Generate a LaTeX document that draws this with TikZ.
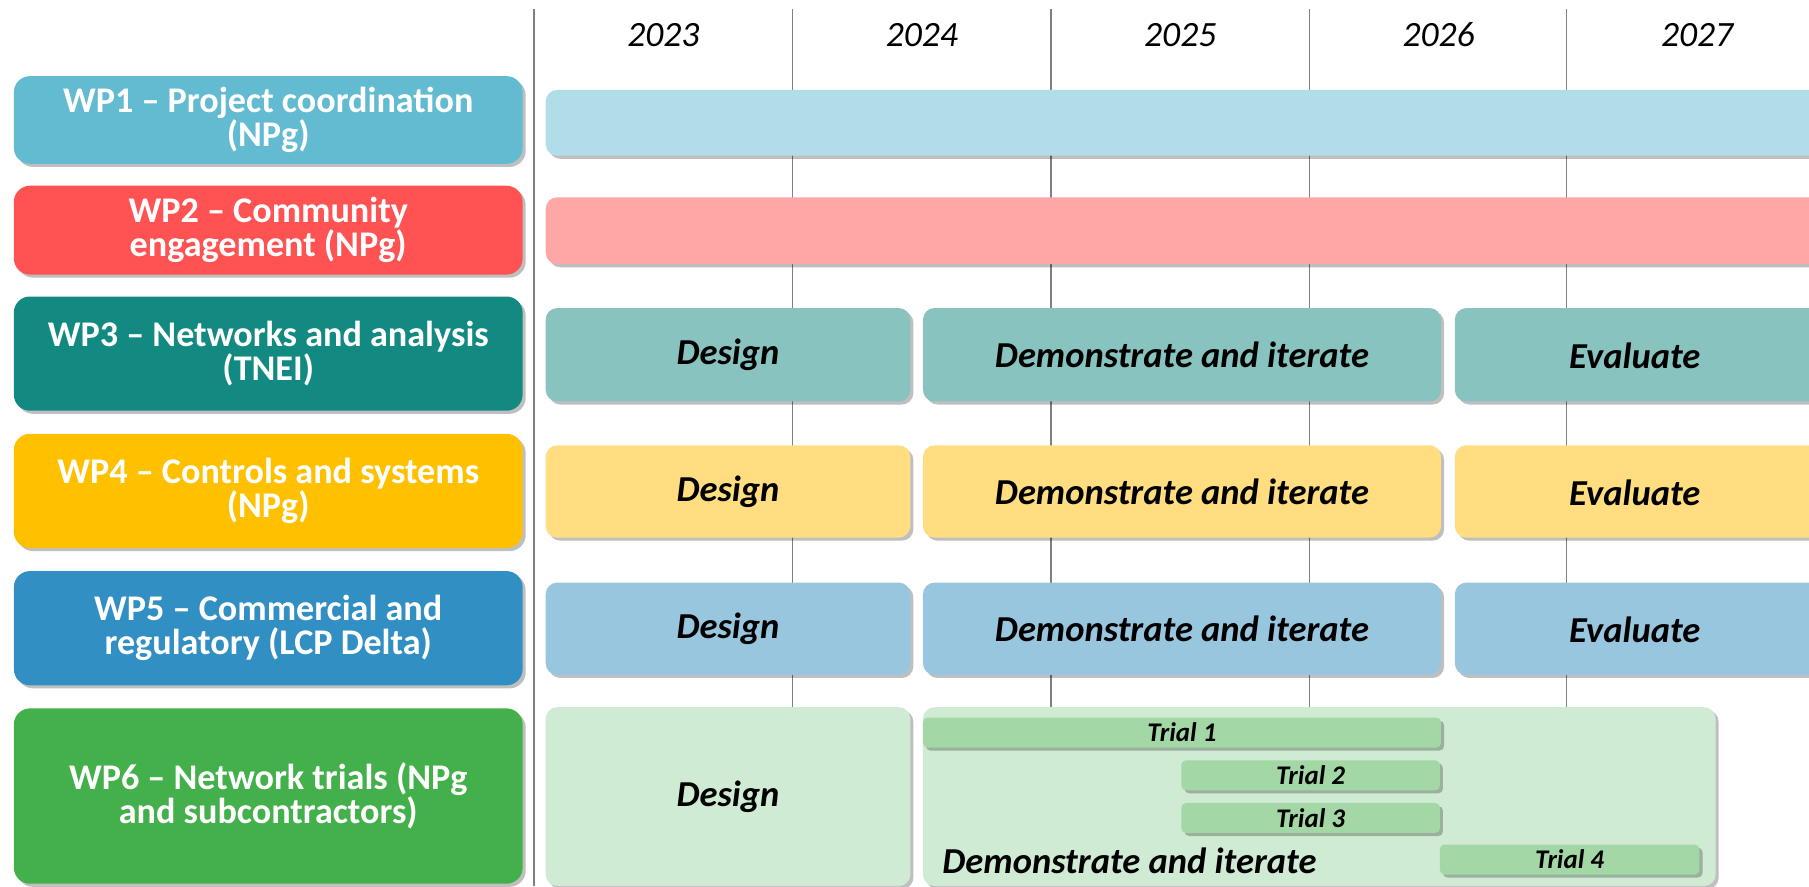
\documentclass[tikz,border=0pt]{standalone}
\usepackage{fontspec}
\setmainfont{Carlito}
\usetikzlibrary{shadows}

\definecolor{wpAlab}{HTML}{62BBD1}
\definecolor{wpAbar}{HTML}{B0DDE8}
\definecolor{wpBlab}{HTML}{FF5252}
\definecolor{wpBbar}{HTML}{FFA6A6}
\definecolor{wpClab}{HTML}{128A81}
\definecolor{wpCbar}{HTML}{88C3C0}
\definecolor{wpDlab}{HTML}{FFC000}
\definecolor{wpDbar}{HTML}{FFDD80}
\definecolor{wpElab}{HTML}{318FC3}
\definecolor{wpEbar}{HTML}{98C6DF}
\definecolor{wpFlab}{HTML}{44B04C}
\definecolor{wpFbar}{HTML}{D0EBD4}
\definecolor{wpFtrial}{HTML}{A3D8A6}
\definecolor{gridgray}{HTML}{808080}

\tikzset{
  boxshadow/.style={drop shadow={shadow xshift=1.6pt, shadow yshift=-1.6pt, opacity=0.25, fill=black}},
  labelbox/.style={boxshadow, rounded corners=8.4pt},
  barbox/.style={boxshadow, rounded corners=6pt},
  trialbox/.style={boxshadow, rounded corners=2.4pt, fill=wpFtrial},
  labeltext/.style={text=white, align=center, font=\fontsize{18.8}{17.5}\selectfont\bfseries},
  bartext/.style={font=\fontsize{19}{20}\selectfont\bfseries\itshape},
  trialtext/.style={font=\fontsize{14}{15}\selectfont\bfseries\itshape},
  yeartext/.style={font=\fontsize{18.5}{20}\selectfont\itshape}
}

% box from corner to corner, text node in its middle
\def\wpbox[#1][#2](#3)(#4,#5)(#6,#7)#8{%
  \path[#1] (#4,#5) rectangle (#6,#7);
  \node[#2] (#3) at ({(#4+#6)/2},{(#5+#7)/2}) {#8};}

\begin{document}
\begin{tikzpicture}[x=0.6pt, y=-0.6pt]
			%%%%% START %%%%%
			\useasboundingbox (0, 0) rectangle (1568, 768);
			
			% grid
			\draw[gridgray, line width=0.75pt] (463, 8) -- (463, 768);
			\foreach \gx in {687, 911, 1135, 1358}
				\draw[gridgray, line width=0.75pt] (\gx, 8) -- (\gx, 768);
			
			% years
			\foreach \yr [count=\i from 0] in {2023, 2024, 2025, 2026, 2027}
				\node[yeartext] (y\yr) at (575 + 224*\i, 30) {\yr};
			
			% work packages
			\wpbox[labelbox, fill=wpAlab][labeltext](wpA)(12, 66)(453, 142){WP1 – Project coordination\\(NPg)}
			\wpbox[labelbox, fill=wpBlab][labeltext](wpB)(12, 161)(453, 238){WP2 – Community\\engagement (NPg)}
			\wpbox[labelbox, fill=wpClab][labeltext](wpC)(12, 257)(453, 356){WP3 – Networks and analysis\\(TNEI)}
			\wpbox[labelbox, fill=wpDlab][labeltext](wpD)(12, 376)(453, 475){WP4 – Controls and systems\\(NPg)}
			\wpbox[labelbox, fill=wpElab][labeltext](wpE)(12, 495)(453, 594){WP5 – Commercial and\\regulatory (LCP Delta)}
			\wpbox[labelbox, fill=wpFlab][labeltext](wpF)(12, 614)(453, 766){WP6 – Network trials (NPg\\and subcontractors)}
			
			% WP1 and WP2 run all years
			\wpbox[barbox, fill=wpAbar][bartext](wpAall)(473, 78)(1590, 135){}
			\wpbox[barbox, fill=wpBbar][bartext](wpBall)(473, 171)(1590, 229){}
			
			% WP3
			\wpbox[barbox, fill=wpCbar][bartext](wpCdes)(473, 267)(789, 348){Design}
			\wpbox[barbox, fill=wpCbar][bartext](wpCdem)(800, 267)(1249, 348){Demonstrate and iterate}
			\wpbox[barbox, fill=wpCbar][bartext](wpCeva)(1261, 267)(1590, 348){}
			\node[bartext] (wpCevatxt) at (1417, 308) {Evaluate};
			
			% WP4
			\wpbox[barbox, fill=wpDbar][bartext](wpDdes)(473, 386)(789, 466){Design}
			\wpbox[barbox, fill=wpDbar][bartext](wpDdem)(800, 386)(1249, 466){Demonstrate and iterate}
			\wpbox[barbox, fill=wpDbar][bartext](wpDeva)(1261, 386)(1590, 466){}
			\node[bartext] (wpDevatxt) at (1417, 427) {Evaluate};
			
			% WP5
			\wpbox[barbox, fill=wpEbar][bartext](wpEdes)(473, 505)(789, 585){Design}
			\wpbox[barbox, fill=wpEbar][bartext](wpEdem)(800, 505)(1249, 585){Demonstrate and iterate}
			\wpbox[barbox, fill=wpEbar][bartext](wpEeva)(1261, 505)(1590, 585){}
			\node[bartext] (wpEevatxt) at (1417, 546) {Evaluate};
			
			% WP6 with its trials
			\wpbox[barbox, fill=wpFbar][bartext](wpFdes)(473, 613)(789, 768){Design}
			\wpbox[barbox, fill=wpFbar][bartext](wpFdem)(800, 613)(1487, 768){}
			\node[bartext, anchor=west] (wpFdemtxt) at (811, 746) {Demonstrate and iterate};
			
			\wpbox[trialbox][trialtext](trialA)(800, 622)(1249, 648){Trial 1}
			\wpbox[trialbox][trialtext](trialB)(1024, 659)(1248, 685){Trial 2}
			\wpbox[trialbox][trialtext](trialC)(1024, 696)(1248, 722){Trial 3}
			\wpbox[trialbox][trialtext](trialD)(1248, 732)(1473, 758){Trial 4}
			
			%%%%% END %%%%%
		\end{tikzpicture}
\end{document}
